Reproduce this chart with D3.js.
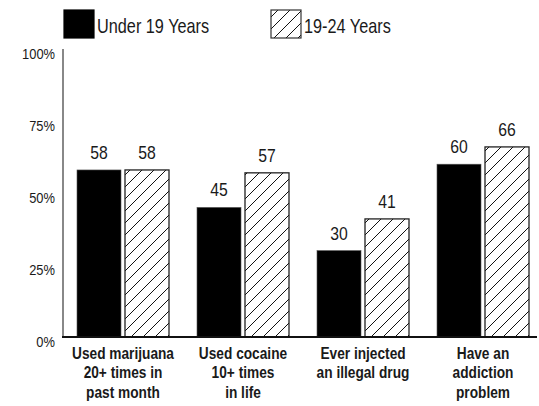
<!DOCTYPE html>
<html>
<head>
<meta charset="utf-8">
<script src="https://cdn.jsdelivr.net/npm/d3@7"></script>
<style>
  body { margin: 0; background: #fff; }
  svg text { font-family: "Liberation Sans", Arial, sans-serif; fill: #1a1a1a; }
</style>
</head>
<body>
<div id="chart"></div>
<script>
// Data
const categories = [
    ["Used marijuana", "20+ times in", "past month"],
    ["Used cocaine", "10+ times", "in life"],
    ["Ever injected", "an illegal drug"],
    ["Have an", "addiction", "problem"]
];
const seriesNames = ["Under 19 Years", "19-24 Years"];
const under19 = [58, 45, 30, 60];
const age19to24 = [58, 57, 41, 66];
const yTicks = [0, 25, 50, 75, 100];

const width = 539, height = 406;
const margin = { top: 49, right: -4, bottom: 69, left: 63 };

const svg = d3.select("#chart").append("svg")
    .attr("width", width)
    .attr("height", height);

// condensed look: squeeze the text horizontally
const narrow = (x, y, sx) => `translate(${x},${y}) scale(${sx},1)`;

// hatch pattern for the second series
const defs = svg.append("defs");
const pat = defs.append("pattern")
    .attr("id", "hatch")
    .attr("patternUnits", "userSpaceOnUse")
    .attr("width", 12)
    .attr("height", 12);
pat.append("rect").attr("width", 12).attr("height", 12).attr("fill", "#fff");
pat.append("path")
    .attr("d", "M0,12 L12,0 M-3,3 L3,-3 M9,15 L15,9")
    .attr("stroke", "#111")
    .attr("stroke-width", 1);

const x0 = d3.scaleBand()
    .domain(d3.range(categories.length))
    .range([margin.left, width - margin.right]);
const x1 = d3.scaleBand()
    .domain(seriesNames)
    .range([14, 106])
    .paddingInner(1 / 12);
const y = d3.scaleLinear()
    .domain([0, 100])
    .range([height - margin.bottom, margin.top]);

const fills = ["#000", "url(#hatch)"];
const strokes = ["#555", "#222"];
const values = [under19, age19to24];

// bars
seriesNames.forEach((s, si) => {
    svg.append("g").selectAll("rect")
        .data(values[si])
        .enter()
        .append("rect")
        .attr("x", (d, i) => x0(i) + x1(s))
        .attr("y", d => y(d))
        .attr("width", x1.bandwidth())
        .attr("height", d => y(0) - y(d))
        .attr("fill", fills[si])
        .attr("stroke", strokes[si])
        .attr("stroke-width", si === 0 ? 0.6 : 1.3);

    svg.append("g").selectAll("text")
        .data(values[si])
        .enter()
        .append("text")
        .attr("transform", (d, i) => narrow(x0(i) + x1(s) + x1.bandwidth() / 2, y(d) - 11, 0.9))
        .attr("text-anchor", "middle")
        .style("font-size", "17.5px")
        .text(d => d);
});

// y axis line + labels
svg.append("line")
    .attr("x1", margin.left).attr("x2", margin.left)
    .attr("y1", y(100)).attr("y2", y(0))
    .attr("stroke", "#888")
    .attr("stroke-width", 2);

svg.append("g").selectAll("text")
    .data(yTicks)
    .enter()
    .append("text")
    .attr("transform", d => narrow(55, y(d) + 9.5, 0.86))
    .attr("text-anchor", "end")
    .style("font-size", "15px")
    .text(d => d + "%");

// baseline
svg.append("line")
    .attr("x1", margin.left - 1).attr("x2", width - 2)
    .attr("y1", y(0)).attr("y2", y(0))
    .attr("stroke", "#111")
    .attr("stroke-width", 2);

// category labels
const cat = svg.append("g").selectAll("text")
    .data(categories)
    .enter()
    .append("text")
    .attr("transform", (d, i) => narrow(x0(i) + x0.bandwidth() / 2, 359, 0.83))
    .attr("text-anchor", "middle")
    .style("font-size", "16.5px")
    .style("font-weight", "bold");
cat.selectAll("tspan")
    .data(d => d)
    .enter()
    .append("tspan")
    .attr("x", 0)
    .attr("dy", (d, i) => i === 0 ? 0 : 19.5)
    .text(d => d);

// legend
const legendX = [64, 271];
seriesNames.forEach((s, si) => {
    svg.append("rect")
        .attr("x", legendX[si])
        .attr("y", 10)
        .attr("width", 30)
        .attr("height", 28)
        .attr("fill", fills[si])
        .attr("stroke", si === 0 ? "#000" : "#333")
        .attr("stroke-width", 1.2);
    svg.append("text")
        .attr("transform", narrow(legendX[si] + 33, 33, 0.814))
        .style("font-size", "20px")
        .text(s);
});
</script>
</body>
</html>
